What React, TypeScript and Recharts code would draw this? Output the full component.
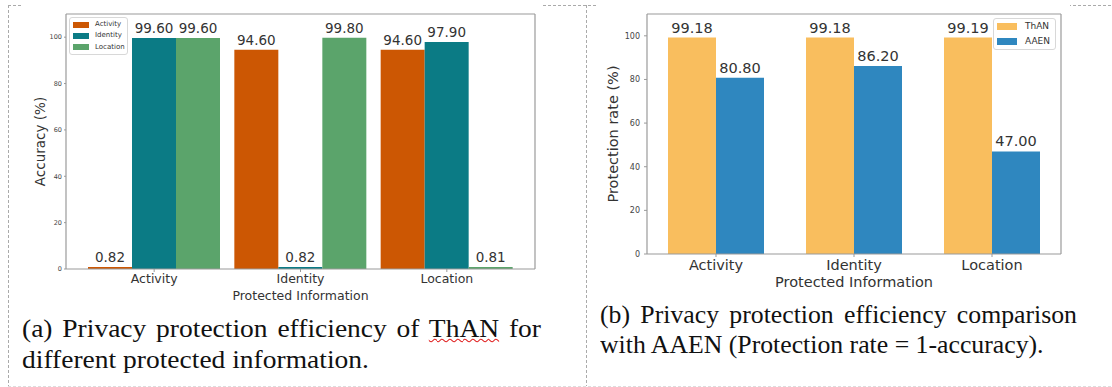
import React from "react";
import { BarChart, Bar, XAxis, YAxis, Legend, LabelList } from "recharts";

const categories = ["Activity", "Identity", "Location"];

// (a) accuracy of each attribute classifier, grouped by protected attribute
const activityAccuracy = [0.82, 94.6, 94.6];
const identityAccuracy = [99.6, 0.82, 97.9];
const locationAccuracy = [99.6, 99.8, 0.81];

// (b) protection rate of ThAN and AAEN
const thanRate = [99.18, 99.18, 99.19];
const aaenRate = [80.8, 86.2, 47.0];

const yTicks = [0, 20, 40, 60, 80, 100];
const yMax = 110;

const accuracyData = categories.map((name, i) => ({
  name,
  activity: activityAccuracy[i],
  identity: identityAccuracy[i],
  location: locationAccuracy[i],
}));

const rateData = categories.map((name, i) => ({
  name,
  than: thanRate[i],
  aaen: aaenRate[i],
}));

const FONT = "'DejaVu Sans', sans-serif";
const SERIF = "'Liberation Serif', 'Times New Roman', serif";
const SPINE = "#9a9a9a";
const TEXT = "#333";

const fmt = (v: any) => Number(v).toFixed(2);

// keep legend entries in the order the bars are declared
const keepOrder = (names: string[]) => (item: any) => names.indexOf(item.value);

// rotated y-axis title, centred on the axis box
function YTitle({ viewBox, value, cx, size }: any) {
  const vb = viewBox || { y: 0, height: 0 };
  const cy = vb.y + vb.height / 2;
  return (
    <text
      x={cx}
      y={cy}
      transform={`rotate(-90 ${cx} ${cy})`}
      textAnchor="middle"
      dominantBaseline="central"
      fontFamily={FONT}
      fontSize={size}
      fill={TEXT}
    >
      {value}
    </text>
  );
}

function BoxLegend({ payload, width, rowH, patchW, patchH, gap, size, padTop }: any) {
  return (
    <div
      style={{
        width,
        boxSizing: "border-box",
        border: "1px solid #d8d8d8",
        borderRadius: 3,
        background: "rgba(255,255,255,0.85)",
        padding: `${padTop}px 3px ${padTop}px 3px`,
      }}
    >
      {(payload || []).map((p: any) => (
        <div key={p.value} style={{ display: "flex", alignItems: "center", height: rowH }}>
          <span style={{ width: patchW, height: patchH, background: p.color, marginRight: gap, flex: "none" }} />
          <span style={{ fontSize: size, color: TEXT, fontFamily: FONT, lineHeight: 1 }}>{p.value}</span>
        </div>
      ))}
    </div>
  );
}

function AccuracyChart() {
  const label = { fill: TEXT, fontSize: 13.5, fontFamily: FONT };
  return (
    <BarChart
      width={521}
      height={306}
      data={accuracyData}
      margin={{ top: 13, right: 7, left: 0, bottom: 0 }}
      barCategoryGap={7}
      barGap={0}
    >
      <XAxis
        dataKey="name"
        padding={{ left: 15, right: 15 }}
        height={37}
        interval={0}
        tickSize={3}
        tickMargin={2}
        tick={{ fontSize: 12.5, fill: TEXT, fontFamily: FONT }}
        axisLine={{ stroke: SPINE, strokeWidth: 1.2 }}
        tickLine={{ stroke: SPINE }}
        label={{ value: "Protected Information", position: "insideBottom", offset: 6, fontSize: 12.5, fill: TEXT, fontFamily: FONT }}
      />
      {/* top and right spines close the frame */}
      <XAxis xAxisId="top" orientation="top" dataKey="name" height={1} tick={false} tickLine={false} axisLine={{ stroke: SPINE, strokeWidth: 1.2 }} />
      <YAxis
        domain={[0, yMax]}
        ticks={yTicks}
        width={44}
        tickSize={2}
        tickMargin={2}
        tick={{ fontSize: 6.5, fill: "#444", fontFamily: FONT }}
        axisLine={{ stroke: SPINE, strokeWidth: 1.2 }}
        tickLine={{ stroke: SPINE }}
        label={<YTitle value="Accuracy (%)" cx={18} size={13.5} />}
      />
      <YAxis yAxisId="right" orientation="right" width={1} domain={[0, yMax]} tick={false} tickLine={false} axisLine={{ stroke: SPINE, strokeWidth: 1.2 }} />
      <Legend
        layout="vertical"
        align="center"
        verticalAlign="middle"
        itemSorter={keepOrder(["Activity", "Identity", "Location"])}
        wrapperStyle={{ left: 47, top: 17 }}
        content={<BoxLegend width={59} rowH={11.3} patchW={16} patchH={6} gap={6} size={7} padTop={1} />}
      />
      <Bar dataKey="activity" name="Activity" fill="#cc5703" isAnimationActive={false}>
        <LabelList dataKey="activity" position="top" formatter={fmt} {...label} />
      </Bar>
      <Bar dataKey="identity" name="Identity" fill="#0b7b85" isAnimationActive={false}>
        <LabelList dataKey="identity" position="top" formatter={fmt} {...label} />
      </Bar>
      <Bar dataKey="location" name="Location" fill="#5ba46b" isAnimationActive={false}>
        <LabelList dataKey="location" position="top" formatter={fmt} {...label} />
      </Bar>
    </BarChart>
  );
}

function RateChart() {
  const label = { fill: TEXT, fontSize: 14.5, fontFamily: FONT };
  return (
    <BarChart
      width={472}
      height={295}
      data={rateData}
      margin={{ top: 13, right: 8, left: 0, bottom: 0 }}
      barCategoryGap={21}
      barGap={0}
    >
      <XAxis
        dataKey="name"
        height={41}
        interval={0}
        tickSize={3}
        tickMargin={3}
        tick={{ fontSize: 14.5, fill: TEXT, fontFamily: FONT }}
        axisLine={{ stroke: SPINE, strokeWidth: 1.2 }}
        tickLine={{ stroke: SPINE }}
        label={{ value: "Protected Information", position: "insideBottom", offset: 8, fontSize: 14.5, fill: TEXT, fontFamily: FONT }}
      />
      <XAxis xAxisId="top" orientation="top" dataKey="name" height={1} tick={false} tickLine={false} axisLine={{ stroke: SPINE, strokeWidth: 1.2 }} />
      <YAxis
        domain={[0, yMax]}
        ticks={yTicks}
        width={49}
        tickSize={3}
        tickMargin={4}
        tick={{ fontSize: 8, fill: "#444", fontFamily: FONT }}
        axisLine={{ stroke: SPINE, strokeWidth: 1.2 }}
        tickLine={{ stroke: SPINE }}
        label={<YTitle value="Protection rate (%)" cx={15} size={14.5} />}
      />
      <YAxis yAxisId="right" orientation="right" width={1} domain={[0, yMax]} tick={false} tickLine={false} axisLine={{ stroke: SPINE, strokeWidth: 1.2 }} />
      <Legend
        layout="vertical"
        align="center"
        verticalAlign="middle"
        itemSorter={keepOrder(["ThAN", "AAEN"])}
        wrapperStyle={{ left: 395, top: 18 }}
        content={<BoxLegend width={63} rowH={14.5} patchW={20} patchH={7} gap={8} size={9} padTop={0.5} />}
      />
      <Bar dataKey="than" name="ThAN" fill="#f9be5e" isAnimationActive={false}>
        <LabelList dataKey="than" position="top" formatter={fmt} {...label} />
      </Bar>
      <Bar dataKey="aaen" name="AAEN" fill="#2f87bf" isAnimationActive={false}>
        <LabelList dataKey="aaen" position="top" formatter={fmt} {...label} />
      </Bar>
    </BarChart>
  );
}

// caption lines are set in a serif face, slightly widened like the printed layout
const captionLine = (top: number, left: number, width: number, lh: number, sx: number, justify: boolean): React.CSSProperties => ({
  position: "absolute",
  top,
  left,
  width: width / sx,
  fontFamily: SERIF,
  fontSize: 25,
  lineHeight: `${lh}px`,
  color: "#111",
  transform: `scaleX(${sx})`,
  transformOrigin: "0 0",
  textAlign: justify ? "justify" : "left",
  textAlignLast: justify ? "justify" : "left",
  whiteSpace: justify ? "normal" : "nowrap",
});

export default function App() {
  return (
    <div style={{ position: "absolute", left: 0, top: 0, width: 1112, height: 387, background: "#fff", overflow: "hidden" }}>
      {/* dashed cell borders */}
      <svg width={1112} height={387} style={{ position: "absolute", left: 0, top: 0 }}>
        <line x1={8} y1={5.5} x2={1112} y2={5.5} stroke="#aaa" strokeDasharray="3 2" />
        <line x1={8.5} y1={5} x2={8.5} y2={386} stroke="#aaa" strokeDasharray="3 2" />
        <line x1={586.5} y1={5} x2={586.5} y2={386} stroke="#aaa" strokeDasharray="3 2" />
        <line x1={8} y1={386.5} x2={1112} y2={386.5} stroke="#ddd" strokeDasharray="3 2" />
      </svg>

      <div style={{ position: "absolute", left: 22, top: 0, width: 521, height: 306, background: "#fff" }}>
        <AccuracyChart />
      </div>
      <div style={{ position: "absolute", left: 598, top: 0, width: 472, height: 295, background: "#fff" }}>
        <RateChart />
      </div>

      <div style={captionLine(313, 22, 519, 31, 1.1, true)}>
        (a) Privacy protection efficiency of{" "}
        <span style={{ textDecorationLine: "underline", textDecorationStyle: "wavy", textDecorationColor: "#e02020", textDecorationThickness: 1 }}>
          ThAN
        </span>{" "}
        for
      </div>
      <div style={captionLine(344, 22, 519, 31, 1.1, false)}>different protected information.</div>

      <div style={captionLine(300, 600, 477, 30, 1.03, true)}>(b) Privacy protection efficiency comparison</div>
      <div style={captionLine(330, 600, 477, 30, 1.03, false)}>with AAEN (Protection rate = 1-accuracy).</div>
    </div>
  );
}
